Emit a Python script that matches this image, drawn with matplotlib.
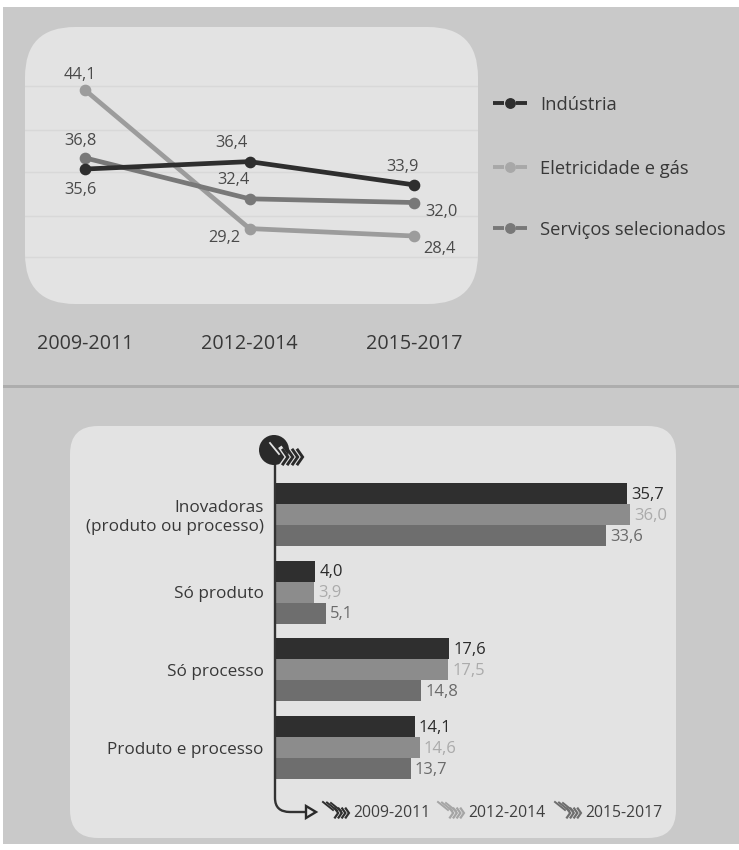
import matplotlib
matplotlib.use("Agg")
import matplotlib.pyplot as plt
from matplotlib.patches import FancyBboxPatch, PathPatch, Polygon, Circle, Rectangle
from matplotlib.path import Path

plt.rcParams['font.family'] = ['Open Sans', 'DejaVu Sans']

# Line chart data
periods = ['2009-2011', '2012-2014', '2015-2017']
industria = [35.6, 36.4, 33.9]
eletricidade = [44.1, 29.2, 28.4]
servicos = [36.8, 32.4, 32.0]
line_grid = [44.5, 39.8, 35.3, 30.55, 26.1]

# Bar chart data
categories = ['Inovadoras\n(produto ou processo)', 'Só produto', 'Só processo', 'Produto e processo']
bars_2009 = [35.7, 4.0, 17.6, 14.1]
bars_2012 = [36.0, 3.9, 17.5, 14.6]
bars_2015 = [33.6, 5.1, 14.8, 13.7]

W, H = 739, 850
C_DARK, C_LIGHT, C_MID = '#2e2e2e', '#9c9c9c', '#787878'
BAR_DARK, BAR_LIGHT, BAR_MID = '#2f2f2f', '#8c8c8c', '#6e6e6e'
PANEL, CARD, TEXT = '#c9c9c9', '#e3e3e3', '#383838'

fig = plt.figure(figsize=(W / 100, H / 100), dpi=100, facecolor='white')


def axes_px(left, top, right, bottom, **kw):
    return fig.add_axes([left / W, 1 - bottom / H, (right - left) / W, (bottom - top) / H], **kw)


# Backdrop layer, addressed in pixels
bg = axes_px(0, 0, W, H)
bg.set_xlim(0, W)
bg.set_ylim(H, 0)
bg.axis('off')
bg.add_patch(Rectangle((3, 7), W - 3, 837, fc=PANEL, ec='none'))
bg.add_patch(Rectangle((3, 385), W - 3, 3, fc='#adadad', ec='none'))
bg.add_patch(FancyBboxPatch((25 + 50, 27 + 50), 453 - 100, 277 - 100,
                            boxstyle='round,pad=50,rounding_size=50', fc=CARD, ec='none'))
bg.add_patch(FancyBboxPatch((70 + 28, 426 + 28), 606 - 56, 412 - 56,
                            boxstyle='round,pad=28,rounding_size=28', fc=CARD, ec='none'))

# Line chart
PX_X, PX_Y = 164.5, 9.3
ax = axes_px(25, 27, 478, 304)
ax.patch.set_alpha(0)
ax.set_xlim((25 - 85) / PX_X, (478 - 85) / PX_X)
ax.set_ylim(44.1 - (304 - 90) / PX_Y, 44.1 + (90 - 27) / PX_Y)
for s in ax.spines.values():
    s.set_visible(False)
ax.set_yticks([])
for g in line_grid:
    ax.axhline(g, color='#d8d8d8', lw=1.0, zorder=1)
xs = list(range(len(periods)))
ax.set_xticks(xs, periods, fontsize=14.2, color=TEXT)
ax.tick_params(axis='x', length=0, pad=21.5)
series = [(eletricidade, C_LIGHT, 3), (servicos, C_MID, 4), (industria, C_DARK, 5)]
for vals, col, z in series:
    ax.plot(xs, vals, color=col, lw=3.4, marker='o', ms=7.4, zorder=z, solid_capstyle='round')

# Point labels: (series, index, x offset, y offset) in points
label_offsets = [
    (eletricidade, 0, -3.6, 11), (eletricidade, 1, -18, -7), (eletricidade, 2, 18, -9),
    (servicos, 0, -3.6, 12), (servicos, 1, -11.5, 13.2), (servicos, 2, 20, -7),
    (industria, 0, -3.6, -15), (industria, 1, -13, 13.2), (industria, 2, -8.6, 13.2),
]
for vals, i, dx, dy in label_offsets:
    ax.annotate(f'{vals[i]:.1f}'.replace('.', ','), (xs[i], vals[i]), xytext=(dx, dy),
                textcoords='offset points', ha='center', va='center',
                fontsize=11.8, color='#4a4a4a', zorder=6)

# Line chart key: short dashes either side of a dot
key = [('Indústria', C_DARK, 103), ('Eletricidade e gás', '#a8a8a8', 167), ('Serviços selecionados', C_MID, 228)]
for name, col, y in key:
    bg.plot([493, 504], [y, y], color=col, lw=2.8, zorder=2, solid_capstyle='butt')
    bg.plot([516, 527], [y, y], color=col, lw=2.8, zorder=2, solid_capstyle='butt')
    bg.plot([510], [y], 'o', color=col, ms=6.8, zorder=3)
    bg.text(540, y + 1.5, name, fontsize=13.2, color=TEXT, va='center', ha='left')

# Bar chart
PX_BAR, GROUP = 9.83, 77.7
BAR_H = 21 / GROUP
axb = axes_px(276, 440, 676, 800)
axb.patch.set_alpha(0)
axb.set_xlim(0, 400 / PX_BAR)
axb.set_ylim((800 - 514.5) / GROUP, (440 - 514.5) / GROUP)
for s in axb.spines.values():
    s.set_visible(False)
axb.set_xticks([])
ypos = list(range(len(categories)))
axb.set_yticks(ypos, categories, fontsize=12.3, color=TEXT, ha='right', ma='right')
axb.tick_params(axis='y', length=0, pad=9)
bar_series = [(bars_2009, -1, BAR_DARK, '#2a2a2a'), (bars_2012, 0, BAR_LIGHT, '#ababab'), (bars_2015, 1, BAR_MID, '#6a6a6a')]
for vals, off, col, tcol in bar_series:
    ys = [p + off * BAR_H for p in ypos]
    axb.barh(ys, vals, height=BAR_H, color=col, edgecolor='none')
    for y, v in zip(ys, vals):
        axb.annotate(f'{v:.1f}'.replace('.', ','), (v, y), xytext=(3, -0.8), textcoords='offset points',
                     ha='left', va='center', fontsize=12, color=tcol)


def chevrons(axis, x0, y0, col, n=4, size=4.2, step=4.4, lw=1.5, z=8):
    """Row of small arrowheads used in the period badges."""
    for k in range(n):
        x = x0 + k * step
        axis.plot([x, x + size * 0.7, x], [y0 - size, y0, y0 + size], color=col, lw=lw, zorder=z,
                  solid_joinstyle='miter')


# Vertical axis that curves into the arrow at the foot of the bar chart
fg = axes_px(0, 0, W, H)
fg.patch.set_alpha(0)
fg.set_xlim(0, W)
fg.set_ylim(H, 0)
fg.axis('off')
verts = [(275, 455), (275, 798), (275, 812), (290, 812), (306, 812)]
codes = [Path.MOVETO, Path.LINETO, Path.CURVE3, Path.CURVE3, Path.LINETO]
fg.add_patch(PathPatch(Path(verts, codes), fc='none', ec='#333333', lw=1.7))
fg.add_patch(Polygon([(306, 806), (316, 812), (306, 818)], closed=True, fc=CARD, ec='#2a2a2a', lw=1.7))

# Period badge at the head of the axis
fg.add_patch(Circle((274, 450), 15, fc='#2a2a2a', ec='none', zorder=5))
fg.plot([270, 279], [443, 454], color=CARD, lw=1.3, zorder=6)
chevrons(fg, 281, 457, CARD, n=1, size=8.5, lw=3, z=7)
chevrons(fg, 283, 457, '#2a2a2a', n=4, size=7, step=4.9, lw=2.1)

# Bar chart key
bar_key = [(periods[0], BAR_DARK, 323, 353), (periods[1], '#a5a5a5', 438, 468), (periods[2], BAR_MID, 555, 585)]
for name, col, ix, tx in bar_key:
    for k in range(3):
        fg.plot([ix + k * 4, ix + 10 + k * 4], [802 + k * 0.5, 810 + k * 0.5], color=col, lw=1.4)
    chevrons(fg, ix + 12, 813, col, n=4, size=4.5, step=3.6, lw=1.6)
    fg.text(tx, 813, name, fontsize=11.3, color='#3f3f3f', va='center', ha='left')

fig.savefig('out.png', dpi=100, facecolor='white')
